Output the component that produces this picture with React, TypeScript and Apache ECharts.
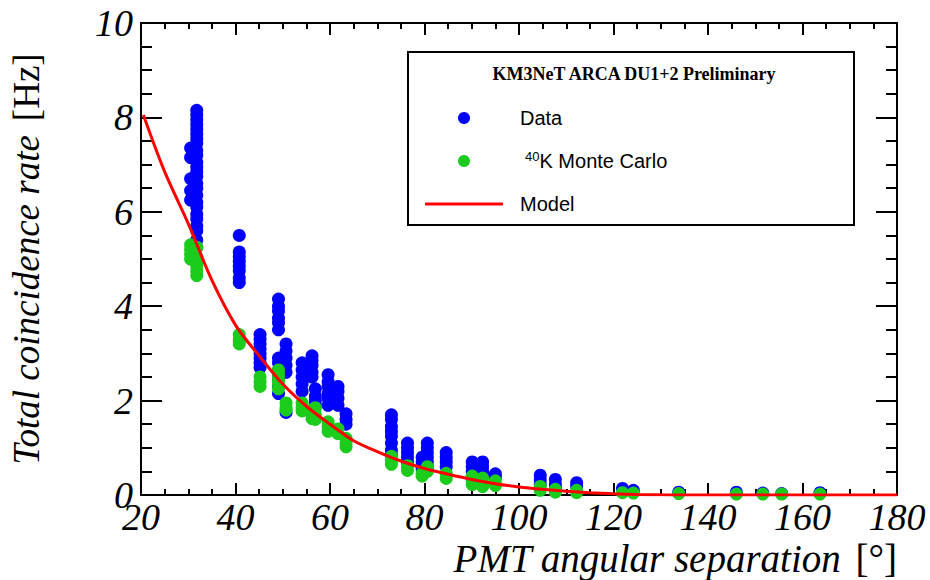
import React, { useEffect, useRef } from "react";
import * as echarts from "echarts";

// Blue "Data" clusters: [angular separation, rates...]
const dataClusters: [number, number[]][] = [
  [30.5, [7.35, 7.15, 6.7, 6.45, 6.25]],
  [31.8, [8.15, 8.05, 7.95, 7.85, 7.75, 7.65, 7.55, 7.45, 7.3, 7.2, 7.05, 6.95, 6.85, 6.75, 6.6, 6.5, 6.35, 6.2, 6.1, 5.95, 5.85, 5.7, 5.6, 5.4, 5.25]],
  [40.8, [5.5, 5.15, 5.05, 4.95, 4.85, 4.75, 4.6, 4.5]],
  [45.2, [3.4, 3.3, 3.2, 3.1, 3.0, 2.9, 2.8, 2.7]],
  [49.1, [4.15, 4.0, 3.9, 3.75, 3.65, 3.5, 2.9, 2.8, 2.65, 2.55, 2.45, 2.3, 2.15]],
  [50.7, [3.2, 3.05, 2.9, 2.75, 2.6, 1.75]],
  [54.1, [2.8, 2.65, 2.5, 2.35, 2.2]],
  [56.2, [2.95, 2.85, 2.75, 2.6, 2.5]],
  [56.9, [2.25, 2.1, 2.0, 1.9]],
  [59.6, [2.55, 2.4, 2.3, 2.15, 2.05, 1.9]],
  [61.7, [2.3, 2.2, 2.05, 1.9]],
  [63.4, [1.72, 1.6, 1.5]],
  [73.0, [1.7, 1.6, 1.45, 1.35, 1.25, 1.1, 0.95, 0.85]],
  [76.4, [1.1, 1.0, 0.9, 0.8, 0.7]],
  [79.5, [0.8, 0.7, 0.55]],
  [80.6, [1.1, 1.0, 0.9, 0.8, 0.7, 0.6]],
  [84.6, [0.9, 0.8, 0.7, 0.6]],
  [90.1, [0.7, 0.6, 0.5, 0.4]],
  [92.3, [0.7, 0.6, 0.5, 0.42]],
  [95.0, [0.45, 0.38]],
  [104.5, [0.42, 0.32, 0.22]],
  [107.7, [0.33, 0.22, 0.15]],
  [112.2, [0.26, 0.18]],
  [121.9, [0.14]],
  [124.2, [0.1]],
  [133.8, [0.06]],
  [146.0, [0.06]],
  [151.6, [0.04]],
  [155.6, [0.03]],
  [163.7, [0.05]],
];

// Green "40K Monte Carlo" clusters
const mcClusters: [number, number[]][] = [
  [30.5, [5.3, 5.2, 5.1, 5.0]],
  [31.8, [5.25, 5.05, 4.95, 4.85, 4.75, 4.65]],
  [40.8, [3.4, 3.3, 3.25, 3.2]],
  [45.2, [2.5, 2.4, 2.3]],
  [49.1, [2.65, 2.55, 2.45, 2.35, 2.25]],
  [50.7, [1.95, 1.85, 1.8]],
  [54.1, [1.95, 1.85, 1.78]],
  [56.2, [1.8, 1.7, 1.62]],
  [56.9, [1.85, 1.7, 1.6]],
  [59.6, [1.55, 1.45, 1.35]],
  [61.7, [1.4, 1.3]],
  [63.4, [1.2, 1.1, 1.02]],
  [73.0, [0.82, 0.72, 0.65]],
  [76.4, [0.62, 0.52]],
  [79.5, [0.46, 0.4]],
  [80.6, [0.6, 0.5]],
  [84.6, [0.46, 0.35]],
  [90.1, [0.4, 0.3, 0.22]],
  [92.3, [0.36, 0.25, 0.18]],
  [95.0, [0.3, 0.2]],
  [104.5, [0.18, 0.1]],
  [107.7, [0.12, 0.06]],
  [112.2, [0.1, 0.05]],
  [121.9, [0.05]],
  [124.2, [0.04]],
  [133.8, [0.03]],
  [146.0, [0.02]],
  [151.6, [0.02]],
  [155.6, [0.02]],
  [163.7, [0.02]],
];

// Model curve
const modelX = [20.5, 25, 30, 35, 40, 45, 50, 55, 60, 65, 70, 75, 80, 85, 90, 95, 100, 105, 110, 115, 120, 125, 130, 135, 180];
const modelY = [8.05, 6.85, 5.75, 4.55, 3.6, 2.95, 2.35, 1.88, 1.5, 1.15, 0.92, 0.72, 0.56, 0.44, 0.33, 0.24, 0.17, 0.12, 0.08, 0.05, 0.025, 0.01, 0.003, 0, 0];

const xTicks = { min: 20, max: 180, interval: 20 };
const yTicks = { min: 0, max: 10, interval: 2 };

const flatten = (c: [number, number[]][]) =>
  c.flatMap(([x, ys]) => ys.map((y) => [x, y]));

const SERIF = "'Liberation Serif', 'DejaVu Serif', serif";
const SANS = "'Liberation Sans', Arial, sans-serif";

export default function App() {
  const ref = useRef<HTMLDivElement>(null);
  useEffect(() => {
    if (!ref.current) return;
    const chart = echarts.init(ref.current, null, { renderer: "svg" });
    const axisLine = { show: true, onZero: false, lineStyle: { color: "#000", width: 2 } };
    const xBase = {
      type: "value" as const,
      min: xTicks.min,
      max: xTicks.max,
      interval: xTicks.interval,
      splitLine: { show: false },
      axisLine,
      axisTick: { show: true, inside: true, length: 12, lineStyle: { color: "#000", width: 2 } },
      minorTick: { show: true, splitNumber: 4, length: 6, lineStyle: { color: "#000", width: 2 } },
    };
    const yBase = {
      type: "value" as const,
      min: yTicks.min,
      max: yTicks.max,
      interval: yTicks.interval,
      splitLine: { show: false },
      axisLine,
      axisTick: { show: true, inside: true, length: 21, lineStyle: { color: "#000", width: 2 } },
      minorTick: { show: true, splitNumber: 4, length: 11, lineStyle: { color: "#000", width: 2 } },
    };
    const tickFont = {
      fontFamily: SERIF,
      fontStyle: "italic" as const,
      fontSize: 38,
      lineHeight: 36,
      color: "#000",
    };
    chart.setOption({
      animation: false,
      backgroundColor: "#fff",
      grid: { left: 141, right: 33, top: 23, bottom: 85, containLabel: false },
      xAxis: [
        {
          ...xBase,
          position: "bottom",
          axisLabel: { ...tickFont, margin: 4 },
        },
        {
          ...xBase,
          position: "top",
          axisLabel: { show: false },
        },
      ],
      yAxis: [
        {
          ...yBase,
          position: "left",
          axisLabel: { ...tickFont, margin: 8 },
          name: "{i|Total coincidence rate}{n|[Hz]}",
          nameLocation: "middle",
          nameGap: 96,
          nameTextStyle: {
            rich: {
              i: { fontFamily: SERIF, fontStyle: "italic", fontSize: 37, color: "#000" },
              n: { fontFamily: SERIF, fontSize: 37, color: "#000", padding: [0, 0, 0, 14] },
            },
          },
        },
        {
          ...yBase,
          position: "right",
          axisLabel: { show: false },
        },
      ],
      series: [
        {
          type: "scatter",
          name: "Data",
          data: flatten(dataClusters),
          symbol: "circle",
          symbolSize: 13,
          itemStyle: { color: "#0000ff", opacity: 1 },
          z: 2,
        },
        {
          type: "scatter",
          name: "40K Monte Carlo",
          data: flatten(mcClusters),
          symbol: "circle",
          symbolSize: 13,
          itemStyle: { color: "#1ccc1c", opacity: 1 },
          z: 3,
        },
        {
          type: "line",
          name: "Model",
          data: modelX.map((x, i) => [x, modelY[i]]),
          smooth: 0.3,
          showSymbol: false,
          symbol: "none",
          lineStyle: { color: "#ff0000", width: 3 },
          z: 4,
        },
      ],
      graphic: [
        {
          type: "text",
          right: 33,
          top: 539,
          style: {
            text: "{i|PMT angular separation}{n|[°]}",
            rich: {
              i: { fontFamily: SERIF, fontStyle: "italic", fontSize: 39, lineHeight: 38, fill: "#000" },
              n: { fontFamily: SERIF, fontSize: 39, lineHeight: 38, fill: "#000", padding: [0, 0, 0, 14] },
            },
          },
        },
        {
          type: "group",
          left: 407,
          top: 51,
          children: [
            {
              type: "rect",
              shape: { x: 0, y: 0, width: 446, height: 173 },
              style: { fill: "#fff", stroke: "#000", lineWidth: 2 },
            },
            {
              type: "text",
              x: 226,
              y: 22,
              style: {
                text: "KM3NeT ARCA DU1+2 Preliminary",
                fontFamily: SERIF,
                fontWeight: "bold",
                fontSize: 18,
                fill: "#000",
                align: "center",
                verticalAlign: "middle",
              },
            },
            { type: "circle", shape: { cx: 56, cy: 66, r: 6 }, style: { fill: "#0000ff" } },
            {
              type: "text",
              x: 112,
              y: 66,
              style: { text: "Data", fontFamily: SANS, fontSize: 20, fill: "#000", verticalAlign: "middle" },
            },
            { type: "circle", shape: { cx: 56, cy: 109, r: 6 }, style: { fill: "#1ccc1c" } },
            {
              type: "text",
              x: 117,
              y: 109,
              style: {
                text: "{s|40}{t|K Monte Carlo}",
                verticalAlign: "middle",
                rich: {
                  s: { fontFamily: SANS, fontSize: 13, fill: "#000", verticalAlign: "top", padding: [0, 0, 10, 0] },
                  t: { fontFamily: SANS, fontSize: 20, fill: "#000" },
                },
              },
            },
            {
              type: "line",
              shape: { x1: 17, y1: 152, x2: 95, y2: 152 },
              style: { stroke: "#ff0000", lineWidth: 3 },
            },
            {
              type: "text",
              x: 112,
              y: 152,
              style: { text: "Model", fontFamily: SANS, fontSize: 20, fill: "#000", verticalAlign: "middle" },
            },
          ],
        },
      ],
    });
    return () => chart.dispose();
  }, []);
  return (
    <div
      ref={ref}
      style={{ position: "fixed", left: 0, top: 0, width: 930, height: 580, background: "#fff" }}
    />
  );
}
